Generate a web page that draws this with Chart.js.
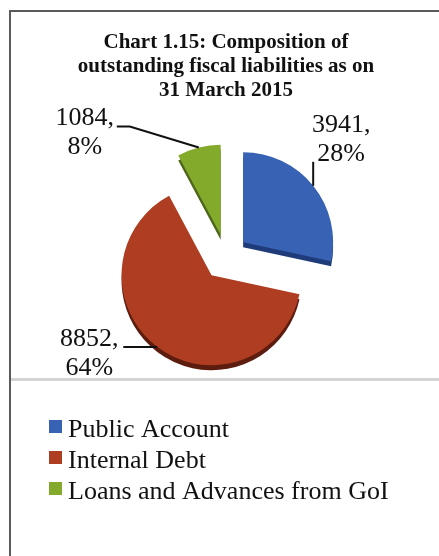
<!DOCTYPE html>
<html>
<head>
<meta charset="utf-8">
<script src="https://cdn.jsdelivr.net/npm/chart.js@4.4.1/dist/chart.umd.min.js"></script>
<style>
  html, body { margin: 0; padding: 0; background: #fff; overflow: hidden; }
  #wrap { position: relative; width: 439px; height: 556px; overflow: hidden; }
  #frame { position: absolute; left: 9px; top: 10px; width: 428px; height: 546px; border-left: 2px solid #5a5a5a; border-top: 2px solid #5a5a5a; }
  #rule { position: absolute; left: 11px; right: 0; top: 378px; height: 3px; background: #d4d4d4; }
  canvas { position: absolute; left: 0; top: 0; }
</style>
</head>
<body>
<div id="wrap">
  <div id="frame"></div>
  <div id="rule"></div>
  <canvas id="myChart" width="439" height="556"></canvas>
</div>
<script>
var categories = ["Public Account", "Internal Debt", "Loans and Advances from GoI"];
var values = [3941, 8852, 1084];
var titleLines = ["Chart 1.15: Composition of", "outstanding fiscal liabilities as on", "31 March 2015"];

var colors = ["#3862b3", "#ae3d21", "#84aa2c"];
var sideColors = ["#1f3b7a", "#5c1c0e", "#4d6619"];

var total = values.reduce(function (a, b) { return a + b; }, 0);

// how far each slice is pulled out from the centre (px)
var explode = [22, 24, 22];

// where each data label sits, relative to the point on its slice edge
var labelLayout = [
  { lead: [[0, -24]], text: [28, -54] },
  { lead: [[-34, 0]], text: [-68, -1] },
  { lead: [[-69, -21], [-82, -21]], text: [-114, -22] }
];

function pullOut(el, i) {
  var mid = (el.startAngle + el.endAngle) / 2;
  return { dx: Math.cos(mid) * explode[i], dy: Math.sin(mid) * explode[i], mid: mid };
}

// exploded slices with a darker copy below each one for the 3d edge
var explodePlugin = {
  id: "explode",
  beforeDatasetDraw: function (chart, args) {
    var ctx = chart.ctx;
    var arcs = args.meta.data;
    arcs.forEach(function (el, i) {
      var p = pullOut(el, i);
      var ghost = Object.create(el);
      ghost.options = Object.assign({}, el.options, { backgroundColor: sideColors[i] });
      ctx.save();
      ctx.translate(p.dx, p.dy + 5);
      ghost.draw(ctx);
      ctx.restore();
    });
    arcs.forEach(function (el, i) {
      var p = pullOut(el, i);
      ctx.save();
      ctx.translate(p.dx, p.dy);
      el.draw(ctx);
      ctx.restore();
    });
    return false;
  }
};

var labelPlugin = {
  id: "sliceLabels",
  afterDatasetsDraw: function (chart) {
    var ctx = chart.ctx;
    chart.getDatasetMeta(0).data.forEach(function (el, i) {
      var p = pullOut(el, i);
      var px = el.x + p.dx + Math.cos(p.mid) * el.outerRadius;
      var py = el.y + p.dy + Math.sin(p.mid) * el.outerRadius;
      var lay = labelLayout[i];
      ctx.save();
      ctx.strokeStyle = "#111";
      ctx.lineWidth = 2;
      ctx.beginPath();
      ctx.moveTo(px, py);
      lay.lead.forEach(function (q) { ctx.lineTo(px + q[0], py + q[1]); });
      ctx.stroke();
      ctx.font = '26px "Liberation Serif"';
      ctx.textAlign = "center";
      ctx.textBaseline = "alphabetic";
      ctx.fillStyle = "#111";
      var pct = Math.round(values[i] / total * 100);
      ctx.fillText(values[i] + ",", px + lay.text[0], py + lay.text[1]);
      ctx.fillText(pct + "%", px + lay.text[0], py + lay.text[1] + 29);
      ctx.restore();
    });
  }
};

var legendPlugin = {
  id: "stackedLegend",
  afterDraw: function (chart) {
    var ctx = chart.ctx;
    ctx.save();
    ctx.font = '26px "Liberation Serif"';
    ctx.textAlign = "left";
    ctx.textBaseline = "alphabetic";
    chart.data.labels.forEach(function (label, i) {
      var base = 437 + i * 31;
      ctx.fillStyle = chart.data.datasets[0].backgroundColor[i];
      ctx.fillRect(49, base - 17, 13, 13);
      ctx.fillStyle = "#111";
      ctx.fillText(label, 68, base);
    });
    ctx.restore();
  }
};

var ctx = document.getElementById("myChart").getContext("2d");

var myChart = new Chart(ctx, {
  type: "pie",
  data: {
    labels: categories,
    datasets: [
      {
        data: values,
        backgroundColor: colors,
        borderWidth: 0,
        radius: 90
      }
    ]
  },
  options: {
    responsive: false,
    animation: false,
    events: [],
    layout: {
      padding: { left: 13, right: 0, top: 0, bottom: 156 }
    },
    plugins: {
      legend: { display: false },
      tooltip: { enabled: false },
      title: {
        display: true,
        text: titleLines,
        color: "#111",
        font: { family: "Liberation Serif", size: 21, weight: "bold", lineHeight: 1.13 },
        padding: { top: 31, bottom: 10 }
      }
    }
  },
  plugins: [explodePlugin, labelPlugin, legendPlugin]
});
</script>
</body>
</html>
